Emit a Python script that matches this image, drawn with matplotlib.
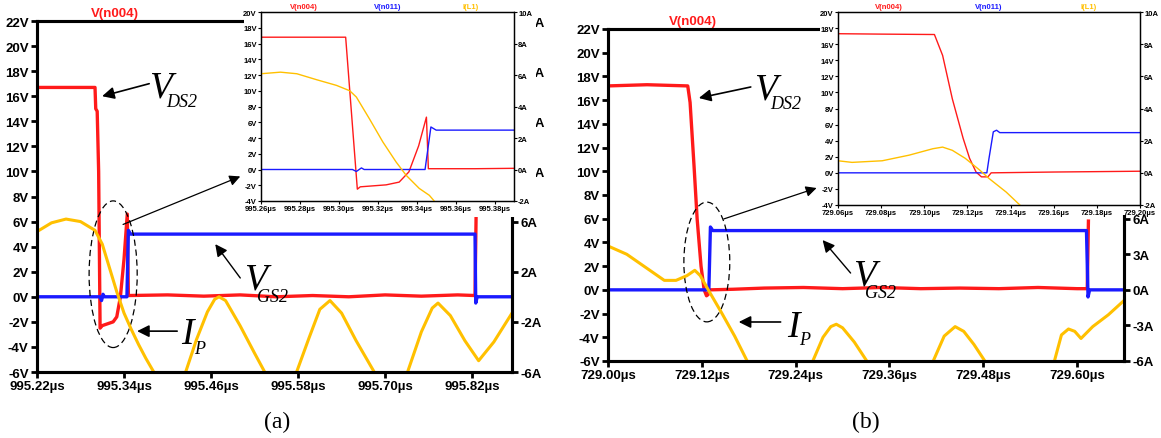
import matplotlib
matplotlib.use("Agg")
import matplotlib.pyplot as plt
from matplotlib.patches import Ellipse, Rectangle
import numpy as np

RED = "#ff1a1a"
BLUE = "#1a1aff"
GOLD = "#ffc000"

# ---- panel (a): main window -------------------------------------------------
a_vds_t = [995.22, 995.300, 995.301, 995.303, 995.305, 995.307, 995.310, 995.325,
           995.330, 995.335, 995.340, 995.3445, 995.346, 995.40, 995.45, 995.50,
           995.55, 995.60, 995.65, 995.70, 995.75, 995.80, 995.824, 995.8255]
a_vds_v = [16.7, 16.7, 15.0, 14.8, 10.0, -2.5, -2.3, -2.0,
           -1.6, 0.0, 3.0, 6.6, 0.1, 0.15, 0.05, 0.15,
           0.0, 0.1, 0.0, 0.15, 0.05, 0.15, 0.1, 6.5]
a_vgs_t = [995.22, 995.307, 995.309, 995.311, 995.313, 995.344, 995.346, 995.349,
           995.824, 995.825, 995.827, 995.875]
a_vgs_v = [0.0, 0.0, -0.3, 0.2, 0.0, 0.0, 5.3, 5.0, 5.0, -0.5, 0.0, 0.0]
a_ip_t = [995.22, 995.24, 995.26, 995.28, 995.30, 995.31, 995.32, 995.33, 995.34,
          995.35, 995.36, 995.37, 995.381, 995.403, 995.425, 995.44, 995.455, 995.465,
          995.471, 995.48, 995.50, 995.52, 995.534, 995.556, 995.578, 995.595,
          995.61, 995.624, 995.64, 995.66, 995.685, 995.708, 995.731, 995.75,
          995.765, 995.773, 995.79, 995.81, 995.829, 995.85, 995.875]
a_ip_i = [5.2, 5.9, 6.2, 6.0, 5.3, 4.2, 2.3, 0.4, -1.3,
          -2.6, -3.8, -4.9, -6.0, -9.0, -6.0, -3.4, -1.2, -0.2,
          0.0, -0.3, -2.3, -4.5, -6.0, -9.0, -6.0, -3.3,
          -1.0, -0.3, -1.3, -3.5, -6.0, -9.0, -6.0, -2.8,
          -0.9, -0.5, -1.5, -3.5, -5.1, -3.6, -1.3]

# ---- panel (a): zoomed inset ------------------------------------------------
ai_vds_t = [995.26, 995.3035, 995.3095, 995.311, 995.3243, 995.331, 995.336,
            995.341, 995.345, 995.346, 995.37, 995.39]
ai_vds_v = [16.8, 16.8, -2.5, -2.2, -1.95, -1.6, -0.3, 3.0, 6.65, 0.1, 0.1, 0.15]
ai_vgs_t = [995.26, 995.307, 995.309, 995.3116, 995.313, 995.3443, 995.3473,
            995.350, 995.39]
ai_vgs_v = [0.0, 0.0, -0.25, 0.2, 0.0, 0.0, 5.4, 5.0, 5.0]
ai_ip_t = [995.26, 995.27, 995.2784, 995.2886, 995.2988, 995.3056, 995.309,
           995.3158, 995.3226, 995.3294, 995.3346, 995.3413, 995.3465, 995.349,
           995.352]
ai_ip_i = [6.08, 6.18, 6.08, 5.7, 5.34, 5.0, 4.6, 3.2, 1.75, 0.48, -0.37, -1.2,
           -1.64, -2.0, -2.6]

# ---- panel (b): main window -------------------------------------------------
b_vds_t = [729.00, 729.05, 729.102, 729.105, 729.110, 729.114, 729.119, 729.123,
           729.126, 729.128, 729.130, 729.16, 729.20, 729.25, 729.30, 729.35,
           729.40, 729.45, 729.50, 729.55, 729.60, 729.613, 729.6145]
b_vds_v = [17.2, 17.3, 17.2, 15.8, 10.5, 6.0, 2.0, 0.0,
           -0.5, -0.4, 0.0, 0.05, 0.15, 0.2, 0.1, 0.2,
           0.1, 0.15, 0.1, 0.2, 0.1, 0.1, 5.8]
b_vgs_t = [729.00, 729.129, 729.131, 729.134, 729.612, 729.614, 729.616, 729.66]
b_vgs_v = [0.0, 0.0, 5.3, 5.0, 5.0, -0.6, 0.0, 0.0]
b_ip_t = [729.00, 729.024, 729.048, 729.072, 729.087, 729.101, 729.111, 729.118,
          729.130, 729.145, 729.162, 729.178, 729.22, 729.262, 729.275, 729.285,
          729.292, 729.300, 729.315, 729.331, 729.373, 729.416, 729.430, 729.444,
          729.455, 729.468, 729.482, 729.527, 729.571, 729.580, 729.589, 729.597,
          729.605, 729.62, 729.64, 729.66]
b_ip_i = [3.7, 3.0, 1.9, 0.8, 0.8, 1.2, 1.65, 1.2,
          -0.2, -1.9, -3.9, -6.0, -10.0, -6.0, -4.0, -3.1,
          -2.9, -3.2, -4.4, -6.0, -10.0, -6.0, -3.9, -3.1,
          -3.5, -4.6, -6.0, -10.0, -6.0, -3.8, -3.3, -3.5,
          -4.1, -3.1, -2.1, -0.9]

# ---- panel (b): zoomed inset ------------------------------------------------
bi_vds_t = [729.06, 729.08, 729.1047, 729.1085, 729.113, 729.118, 729.121,
            729.124, 729.1265, 729.1295, 729.131, 729.16, 729.20]
bi_vds_v = [17.3, 17.25, 17.2, 14.6, 9.2, 4.3, 1.8, 0.1, -0.5, -0.5, 0.0, 0.1, 0.2]
bi_vgs_t = [729.06, 729.129, 729.130, 729.132, 729.1335, 729.135, 729.20]
bi_vgs_v = [0.0, 0.0, 1.8, 5.1, 5.3, 5.0, 5.0]
bi_ip_t = [729.06, 729.0665, 729.0805, 729.093, 729.104, 729.1085, 729.113,
           729.119, 729.1257, 729.130, 729.138, 729.1443, 729.148]
bi_ip_i = [0.75, 0.65, 0.75, 1.1, 1.5, 1.6, 1.4, 0.9, 0.17, -0.35, -1.2, -2.0, -2.5]

main_v_ticks = list(range(-6, 23, 2))
a_i_ticks = list(range(-6, 23, 4))
b_i_ticks = list(range(-6, 22, 3))
inset_v_ticks = list(range(-4, 21, 2))
inset_i_ticks = list(range(-2, 11, 2))

W, H = 1161, 439
fig = plt.figure(figsize=(W / 100, H / 100), dpi=100)
fig.patch.set_facecolor("white")

LBL = dict(fontfamily="Liberation Sans", fontweight="bold")
SERIF = "Liberation Serif"
FS = 9.5


def px_rect(x0, y0, x1, y1):
    return [x0 / W, (H - y1) / H, (x1 - x0) / W, (y1 - y0) / H]


def style_main(ax, ax2, xlim, xticks, iticks, ilabels):
    ax.set_xlim(*xlim)
    ax.set_ylim(-6, 22)
    ax2.set_ylim(-6, 22)
    for s in list(ax.spines.values()) + list(ax2.spines.values()):
        s.set_linewidth(2.2)
    ax.set_yticks(main_v_ticks)
    ax.set_yticklabels([f"{v}V" for v in main_v_ticks], **LBL, fontsize=FS)
    ax2.set_yticks(iticks)
    ax2.set_yticklabels(ilabels, **LBL, fontsize=FS)
    ax.set_xticks(xticks)
    ax.set_xticklabels([f"{t:.2f}µs" for t in xticks], **LBL, fontsize=FS)
    ax.tick_params(direction="out", length=4.5, width=2, pad=1.5)
    ax2.tick_params(direction="out", length=4.5, width=2, pad=1.5)
    ax.text(0.165, 1.005, "V(n004)", transform=ax.transAxes, ha="center",
            va="bottom", color=RED, fontsize=FS, **LBL)


def style_inset(ax, ax2, xlim, xticks):
    ax.set_xlim(*xlim)
    ax.set_ylim(-4, 20)
    ax2.set_ylim(-2, 10)
    for s in list(ax.spines.values()) + list(ax2.spines.values()):
        s.set_linewidth(0.9)
    ax.set_yticks(inset_v_ticks)
    ax.set_yticklabels([f"{v}V" for v in inset_v_ticks], **LBL, fontsize=5.5)
    ax2.set_yticks(inset_i_ticks)
    ax2.set_yticklabels([f"{v}A" for v in inset_i_ticks], **LBL, fontsize=5.5)
    ax.set_xticks(xticks)
    ax.set_xticklabels([f"{t:.2f}µs" for t in xticks], **LBL, fontsize=5.5)
    ax.tick_params(direction="out", length=2.5, width=0.8, pad=0.5)
    ax2.tick_params(direction="out", length=2.5, width=0.8, pad=0.5)
    for x, s, c in [(0.17, "V(n004)", RED), (0.50, "V(n011)", BLUE), (0.83, "I(L1)", GOLD)]:
        ax.text(x, 1.01, s, transform=ax.transAxes, ha="center", va="bottom",
                color=c, fontsize=5.5, **LBL)


def sub_label(ax, x, y, big, small, dx, dy):
    ax.text(x, y, big, fontfamily=SERIF, fontstyle="italic", fontsize=27,
            ha="left", va="baseline", zorder=6)
    ax.annotate(small, (x, y), xytext=(dx, dy), textcoords="offset points",
                fontfamily=SERIF, fontstyle="italic", fontsize=13,
                ha="left", va="baseline", zorder=6)


def arrow(ax, head, tail, lw=1.2, ms=18):
    ax.annotate("", xy=head, xytext=tail,
                arrowprops=dict(arrowstyle="-|>", color="black", lw=lw,
                                mutation_scale=ms, shrinkA=0, shrinkB=0),
                zorder=6, annotation_clip=False)


# ---------------------------- panel (a) ----------------------------------
axa = fig.add_axes(px_rect(37, 22, 512, 373))
axa2 = axa.twinx()
axa.plot(a_vds_t, a_vds_v, color=RED, lw=2.4, zorder=3)
axa.plot(a_vgs_t, a_vgs_v, color=BLUE, lw=2.4, zorder=4)
axa2.plot(a_ip_t, a_ip_i, color=GOLD, lw=2.2)
style_main(axa, axa2, (995.22, 995.875), np.arange(995.22, 995.83, 0.12), a_i_ticks,
           [f"{v}A" for v in a_i_ticks])

sub_label(axa, 995.3747, 15.99, "V", "DS2", 12, -7)
arrow(axa, (995.3098, 16.0), (995.3747, 17.0))
sub_label(axa, 995.5058, 0.68, "V", "GS2", 9, -9)
arrow(axa, (995.4658, 4.2), (995.5003, 1.5), lw=1.0)
sub_label(axa, 995.4188, -3.69, "I", "P", 9, -7)
arrow(axa, (995.358, -2.74), (995.4133, -2.74))
axa.add_patch(Ellipse((995.325, 1.8), 0.0663, 11.7, fill=False, ls=(0, (5, 3)),
                      lw=0.9, color="black", zorder=6))
arrow(axa, (995.5003, 9.6), (995.3387, 5.77), lw=0.9, ms=16)

# ---------------------------- panel (b) ----------------------------------
axb = fig.add_axes(px_rect(608, 30, 1124, 362))
axb2 = axb.twinx()
axb.plot(b_vds_t, b_vds_v, color=RED, lw=2.4, zorder=3)
axb.plot(b_vgs_t, b_vgs_v, color=BLUE, lw=2.4, zorder=4)
axb2.plot(b_ip_t, b_ip_i, color=GOLD, lw=2.2)
# upper current labels sit completely under the inset
style_main(axb, axb2, (729.00, 729.66), np.arange(729.00, 729.61, 0.12), b_i_ticks,
           [f"{v}A" if v <= 6 else "" for v in b_i_ticks])

sub_label(axb, 729.1864, 16.18, "V", "DS2", 12, -7)
arrow(axb, (729.1162, 16.18), (729.1826, 17.11))
sub_label(axb, 729.3128, 0.49, "V", "GS2", 9, -9)
arrow(axb, (729.2745, 4.2), (729.3103, 1.42), lw=1.0)
sub_label(axb, 729.2285, -3.89, "I", "P", 9, -6)
arrow(axb, (729.1672, -2.71), (729.2208, -2.71))
axb.add_patch(Ellipse((729.1264, 2.35), 0.0587, 10.1, fill=False, ls=(0, (5, 3)),
                      lw=0.9, color="black", zorder=6))
arrow(axb, (729.2668, 8.59), (729.1481, 5.98), lw=0.9, ms=16)

# white areas behind the insets (hide the main frame there)
for r in [px_rect(244, 0, 536, 218), px_rect(820, 0, 1161, 216)]:
    fig.patches.append(Rectangle((r[0], r[1]), r[2], r[3], transform=fig.transFigure,
                                 facecolor="white", edgecolor="none", zorder=1))

# ---------------------------- insets -------------------------------------
ia = fig.add_axes(px_rect(261, 13, 514, 202))
ia2 = ia.twinx()
ia.set_zorder(2)
ia2.set_zorder(2)
ia.plot(ai_vds_t, ai_vds_v, color=RED, lw=1.0)
ia.plot(ai_vgs_t, ai_vgs_v, color=BLUE, lw=1.0)
ia2.plot(ai_ip_t, ai_ip_i, color=GOLD, lw=1.0)
style_inset(ia, ia2, (995.26, 995.39), np.arange(995.26, 995.381, 0.02))

ib = fig.add_axes(px_rect(838, 13, 1140, 206))
ib2 = ib.twinx()
ib.set_zorder(2)
ib2.set_zorder(2)
ib.plot(bi_vds_t, bi_vds_v, color=RED, lw=1.0)
ib.plot(bi_vgs_t, bi_vgs_v, color=BLUE, lw=1.0)
ib2.plot(bi_ip_t, bi_ip_i, color=GOLD, lw=1.0)
style_inset(ib, ib2, (729.06, 729.20), np.arange(729.06, 729.201, 0.02))

fig.text(277 / W, 1 - 422 / H, "(a)", fontfamily=SERIF, fontsize=17, ha="center", va="center")
fig.text(866 / W, 1 - 422 / H, "(b)", fontfamily=SERIF, fontsize=17, ha="center", va="center")

fig.savefig("out.png", dpi=100)
